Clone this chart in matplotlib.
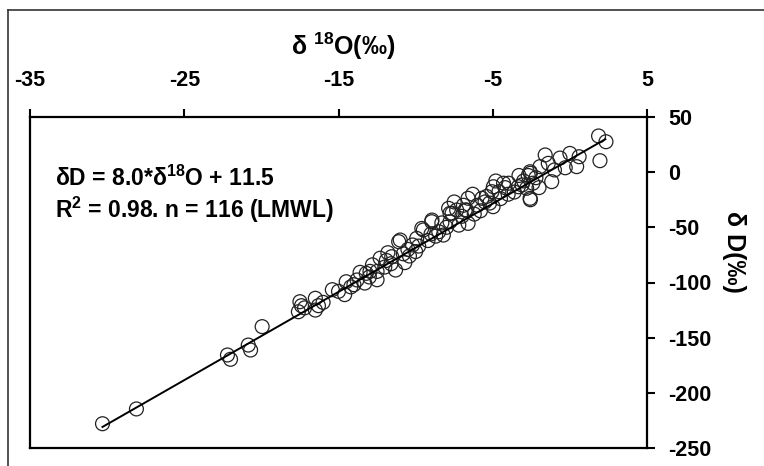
import matplotlib
matplotlib.use("Agg")
import matplotlib.pyplot as plt
from matplotlib.lines import Line2D

plt.rcParams['font.family'] = ['Liberation Sans', 'DejaVu Sans']
plt.rcParams['mathtext.fontset'] = 'custom'
plt.rcParams['mathtext.rm'] = 'Liberation Sans:bold'
plt.rcParams['mathtext.bf'] = 'Liberation Sans:bold'
plt.rcParams['mathtext.it'] = 'Liberation Sans:bold'

# --- data ---
d18O = [-30.3, -28.1, -22.2, -22.0, -20.85, -20.7, -19.95, -17.5, -17.6, -17.4,
        -16.5, -16.5, -16.3, -15.4, -14.6, -14.0, -13.6, -13.3, -12.96, -12.5,
        -13.2, -13.8, -14.5, -12.5, -12.3, -11.55, -11.3, -11.1, -11.0, -11.6,
        -12.0, -11.9, -10.8, -10.5, -10.2, -9.93, -9.5, -8.96, -8.2, -9.2,
        -8.7, -7.77, -7.77, -7.34, -6.7, -6.6, -6.6, -7.0, -6.2, -6.0,
        -5.7, -5.4, -5.05, -4.98, -4.96, -4.6, -4.3, -3.97, -3.34, -3.1,
        -2.8, -2.58, -2.58, -2.56, -2.56, -1.94, -1.6, -1.4, -1.18, -0.64,
        0.0, 0.44, 1.86, 2.34, 1.95, -8.94, -9.6, -7.64, -7.86, -6.78,
        -9.8, -10.4, -10.0, -8.5, -8.0, -5.8, -5.2, -4.5, -4.0, -3.6,
        -3.0, -2.2, -2.0, -1.0, -0.3, 0.6, -3.3, -2.7, -4.8, -6.3,
        -7.2, -7.5, -9.0, -10.7, -11.8, -12.8, -13.0, -14.2, -15.0, -16.0,
        -17.2, -5.5, -4.2, -2.4, -6.9, -8.3]
dD = [-228, -214.6, -165.7, -169.6, -156.7, -161.2, -140, -117.4, -126.5, -121,
      -114.3, -125, -121, -106.5, -111, -102, -90.8, -100.5, -89.9, -97.5,
      -91.7, -97.7, -99.3, -90, -78, -76.6, -88.7, -63, -61.5, -83,
      -86, -80, -74, -70, -66, -60, -52.4, -44.9, -57, -62,
      -58, -37.3, -44.9, -34.3, -34.3, -23.7, -46.4, -40, -38, -30,
      -23.7, -22, -17.7, -31.3, -13.2, -17.7, -10, -10, -13.2, -11.6,
      -14.6, 0.4, -23.7, -1, -25, 5, 15.6, 8, -8.6, 12.8,
      17, 5, 32.8, 27.6, 10.4, -43.4, -51, -37.3, -32.8, -34.3,
      -67, -76, -72, -54, -50, -35, -28, -24, -20, -18,
      -8, -5, -14, 2, 4, 14, -3, -3, -8, -20,
      -48, -27, -56, -82, -73, -84, -95, -104, -108, -118,
      -123, -27, -14, -10, -30, -46]
slope, intercept = 8.0, 11.5
line_x = [-30.3, 2.3]

x_ticks = [-35, -25, -15, -5, 5]
y_ticks = [50, 0, -50, -100, -150, -200, -250]

fig = plt.figure(figsize=(7.64, 4.66), dpi=100)
ax = fig.add_axes([30/764, 1-448/466, 617/764, 331/466])

ax.scatter(d18O, dD, s=100, facecolors='none', edgecolors='#222222', linewidths=0.9, zorder=3)
ax.plot(line_x, [slope*v + intercept for v in line_x], color='black', lw=1.4, zorder=4)

ax.set_xlim(-35, 5)
ax.set_ylim(-250, 50)
ax.xaxis.set_ticks_position('top')
ax.xaxis.set_label_position('top')
ax.yaxis.set_ticks_position('right')
ax.yaxis.set_label_position('right')
ax.set_xticks(x_ticks)
ax.set_yticks(y_ticks)
ax.set_xticklabels([str(t) for t in x_ticks])
ax.set_yticklabels([str(t) for t in y_ticks])
ax.tick_params(axis='x', direction='out', length=6, width=1.5, pad=13, labelsize=15.5)
ax.tick_params(axis='y', direction='out', length=6, width=1.5, pad=9, labelsize=15.5)
for lab in ax.get_xticklabels() + ax.get_yticklabels():
    lab.set_fontweight('bold')
for sp in ax.spines.values():
    sp.set_linewidth(1.6)

fig.text(343/764, 1-46/466, r"δ $^{18}$O(‰)", fontsize=18, fontweight='bold',
         ha='center', va='center')
fig.text(734/764, 1-252/466, "δ D(‰)", fontsize=18, fontweight='bold',
         ha='center', va='center', rotation=270)

ax.text(55/764, 1-178/466, r"δD = 8.0*δ$^{18}$O + 11.5", transform=fig.transFigure,
        fontsize=16.5, fontweight='bold', ha='left', va='center')
ax.text(55/764, 1-210/466, r"R$^2$ = 0.98. n = 116 (LMWL)", transform=fig.transFigure,
        fontsize=16.5, fontweight='bold', ha='left', va='center')

# outer frame (top and left edges of the original figure box)
fig.add_artist(Line2D([8/764, 1], [1-10/466, 1-10/466], transform=fig.transFigure,
                      color='#333333', lw=1.2))
fig.add_artist(Line2D([8/764, 8/764], [0, 1-10/466], transform=fig.transFigure,
                      color='#333333', lw=1.2))

fig.savefig("out.png", dpi=100)
